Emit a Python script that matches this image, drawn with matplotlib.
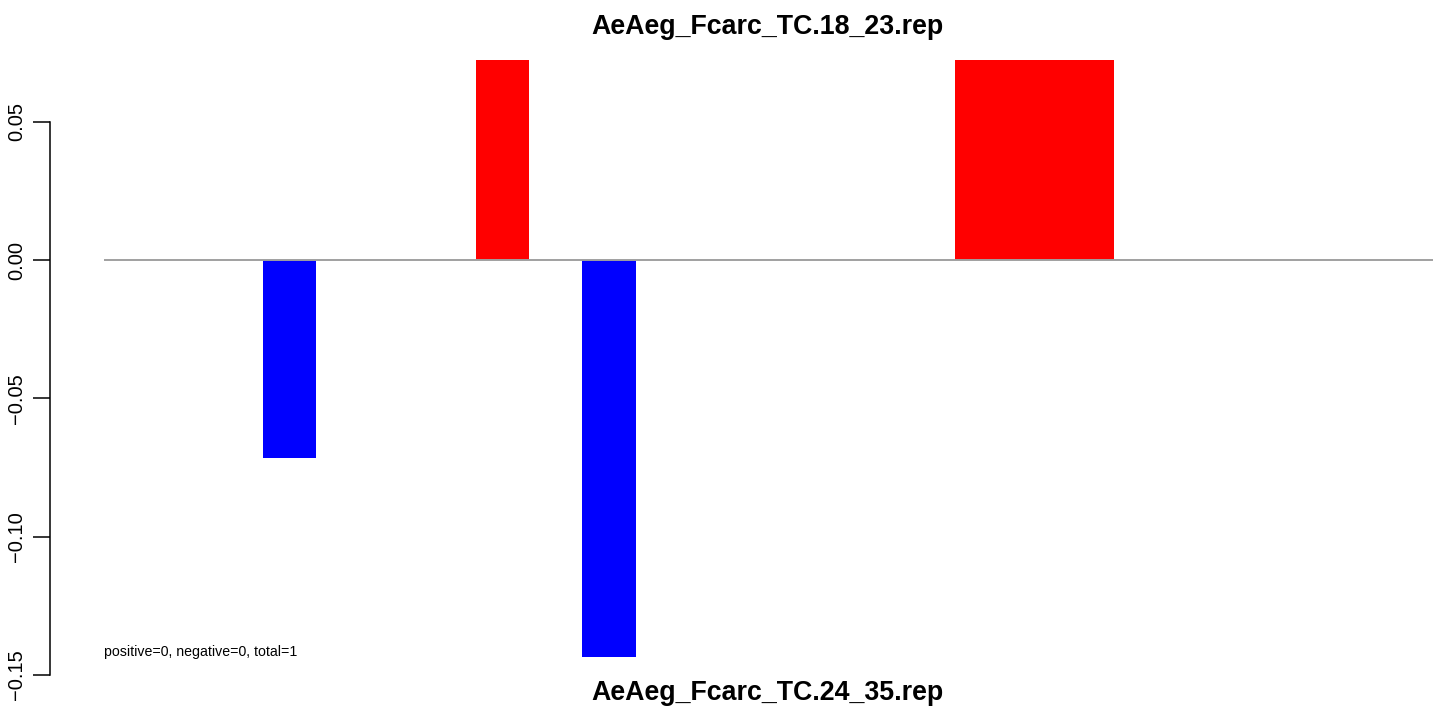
import matplotlib
matplotlib.use("Agg")
import matplotlib.pyplot as plt

# data
bar_starts = [3, 7, 9, 16, 17, 18]
bar_values = [-0.0717, 0.0723, -0.1437, 0.0723, 0.0723, 0.0723]
bar_colors = ["#0000FF", "#FF0000", "#0000FF", "#FF0000", "#FF0000", "#FF0000"]
y_ticks = [-0.15, -0.10, -0.05, 0.00, 0.05]
y_ticklabels = ["\u22120.15", "\u22120.10", "\u22120.05", "0.00", "0.05"]
line_start, line_end = 0, 25
title_top = "AeAeg_Fcarc_TC.18_23.rep"
title_bottom = "AeAeg_Fcarc_TC.24_35.rep"
note = "positive=0, negative=0, total=1"


def main():
    plt.rcParams["font.family"] = ["Liberation Sans", "DejaVu Sans"]
    W, H = 1433, 707
    fig = plt.figure(figsize=(W / 100, H / 100), dpi=100)

    # axes spans from the y axis line to the right edge, full height
    left = 49.5
    ax = fig.add_axes([left / W, 0, 1 - left / W, 1])
    unit = 53.2
    ax.set_xlim(-(103.5 - left) / unit, (W - 103.5) / unit)
    ppu = 2766.0  # pixels per data unit on y
    ax.set_ylim((260 - H) / ppu, 260 / ppu)

    ax.bar(bar_starts, bar_values, width=1, align="edge", color=bar_colors,
           linewidth=0, zorder=2)
    ax.hlines(0, line_start, line_end, color="#a0a0a0", linewidth=1.4, zorder=3)

    for s in ["top", "right", "bottom"]:
        ax.spines[s].set_visible(False)
    ax.spines["left"].set_bounds(y_ticks[0], y_ticks[-1])
    ax.spines["left"].set_linewidth(1.1)
    ax.set_xticks([])
    ax.set_yticks(y_ticks)
    ax.set_yticklabels(y_ticklabels, rotation=90, va="center", fontsize=14.5)
    ax.tick_params(axis="y", length=12, width=1.1, pad=5)

    cx = (103 + 1432) / 2 / W
    fig.text(cx, 1 - 27 / H, title_top, ha="center", va="center",
             fontsize=19.3, fontweight="bold")
    fig.text(cx, 1 - 693 / H, title_bottom, ha="center", va="center",
             fontsize=19.3, fontweight="bold")
    fig.text(104 / W, 1 - 652 / H, note, ha="left", va="center", fontsize=10.2)

    fig.savefig("out.png", dpi=100)
    plt.close(fig)


if __name__ == "__main__":
    main()
